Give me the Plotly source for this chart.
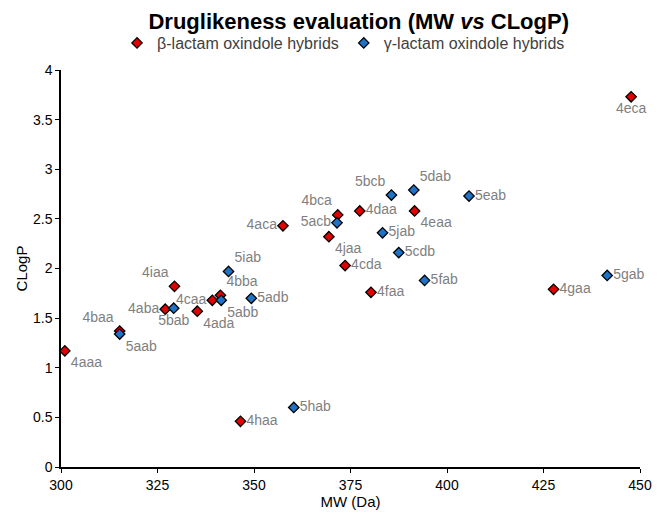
import plotly.graph_objects as go

# beta-lactam oxindole hybrids
beta_names = ["4aaa", "4baa", "4aba", "4iaa", "4ada", "4caa", "4bba", "4haa", "4aca",
              "4jaa", "4bca", "4cda", "4daa", "4faa", "4eaa", "4gaa", "4eca"]
beta_mw = [301.0, 315.2, 327.0, 329.4, 335.3, 339.2, 341.3, 346.5, 357.5,
           369.4, 371.7, 373.6, 377.4, 380.3, 391.6, 427.6, 447.7]
beta_clogp = [1.17, 1.37, 1.59, 1.82, 1.57, 1.68, 1.73, 0.46, 2.43,
              2.32, 2.54, 2.03, 2.58, 1.76, 2.58, 1.79, 3.73]

# gamma-lactam oxindole hybrids
gamma_names = ["5aab", "5bab", "5abb", "5iab", "5adb", "5hab", "5acb", "5jab",
               "5bcb", "5cdb", "5dab", "5eab", "5fab", "5gab"]
gamma_mw = [315.2, 329.2, 341.5, 343.4, 349.3, 360.3, 371.5, 383.3,
            385.6, 387.5, 391.4, 405.7, 394.2, 441.5]
gamma_clogp = [1.34, 1.60, 1.68, 1.97, 1.70, 0.60, 2.46, 2.36,
               2.74, 2.16, 2.79, 2.73, 1.88, 1.93]

# where each label sits relative to its marker
label_pos = {
    "4aaa": "bottom right", "4baa": "top left", "4aba": "middle left",
    "4iaa": "top left", "4ada": "bottom right", "4caa": "middle left",
    "4bba": "top right", "4haa": "middle right", "4aca": "middle left",
    "4jaa": "bottom right", "4bca": "top left", "4cda": "middle right",
    "4daa": "middle right", "4faa": "middle right", "4eaa": "bottom right",
    "4gaa": "middle right", "4eca": "bottom center",
    "5aab": "bottom right", "5bab": "bottom center", "5abb": "bottom right",
    "5iab": "top right", "5adb": "middle right", "5hab": "middle right",
    "5acb": "middle left", "5jab": "middle right", "5bcb": "top left",
    "5cdb": "middle right", "5dab": "top right", "5eab": "middle right",
    "5fab": "middle right", "5gab": "middle right",
}

font = "Arial, Liberation Sans, sans-serif"
label_font = dict(family=font, size=14, color="#7f7f7f")


def series(name, xs, ys, labels, colour):
    return go.Scatter(
        x=xs, y=ys, name=name, mode="markers+text",
        text=labels, textposition=[label_pos[n] for n in labels],
        textfont=label_font,
        marker=dict(symbol="diamond", size=8, color=colour,
                    line=dict(color="black", width=1.3)),
        cliponaxis=False,
    )


fig = go.Figure([
    series("β-lactam oxindole hybrids", beta_mw, beta_clogp, beta_names, "#e30000"),
    series("γ-lactam oxindole hybrids", gamma_mw, gamma_clogp, gamma_names, "#1f73c7"),
])

axis_style = dict(showgrid=False, zeroline=False, showline=True, linecolor="black",
                  linewidth=1.5, ticks="outside", ticklen=4, tickcolor="black",
                  tickfont=dict(family=font, size=14, color="black"),
                  title_font=dict(family=font, size=15, color="black"))

fig.update_xaxes(range=[300, 450], dtick=25, title_text="MW (Da)",
                 title_standoff=1, **axis_style)
fig.update_yaxes(range=[0, 4], dtick=0.5, title_text="CLogP",
                 title_standoff=2, **axis_style)

# page body adds an 8px margin, so the figure is drawn 8px smaller
fig.update_layout(
    width=658, height=511,
    paper_bgcolor="white", plot_bgcolor="white",
    margin=dict(l=49, r=26, t=62, b=52),
    title=dict(text="<b>Druglikeness evaluation (MW <i>vs</i> CLogP)</b>",
               x=0.533, xanchor="center", y=0.9746, yanchor="middle",
               font=dict(family=font, size=22, color="black")),
    legend=dict(orientation="h", x=0.488, xanchor="center", y=1.068, yanchor="middle",
                font=dict(family=font, size=16, color="#404040"),
                itemwidth=30, tracegroupgap=0),
    showlegend=True,
)

fig.write_html("out.html")
